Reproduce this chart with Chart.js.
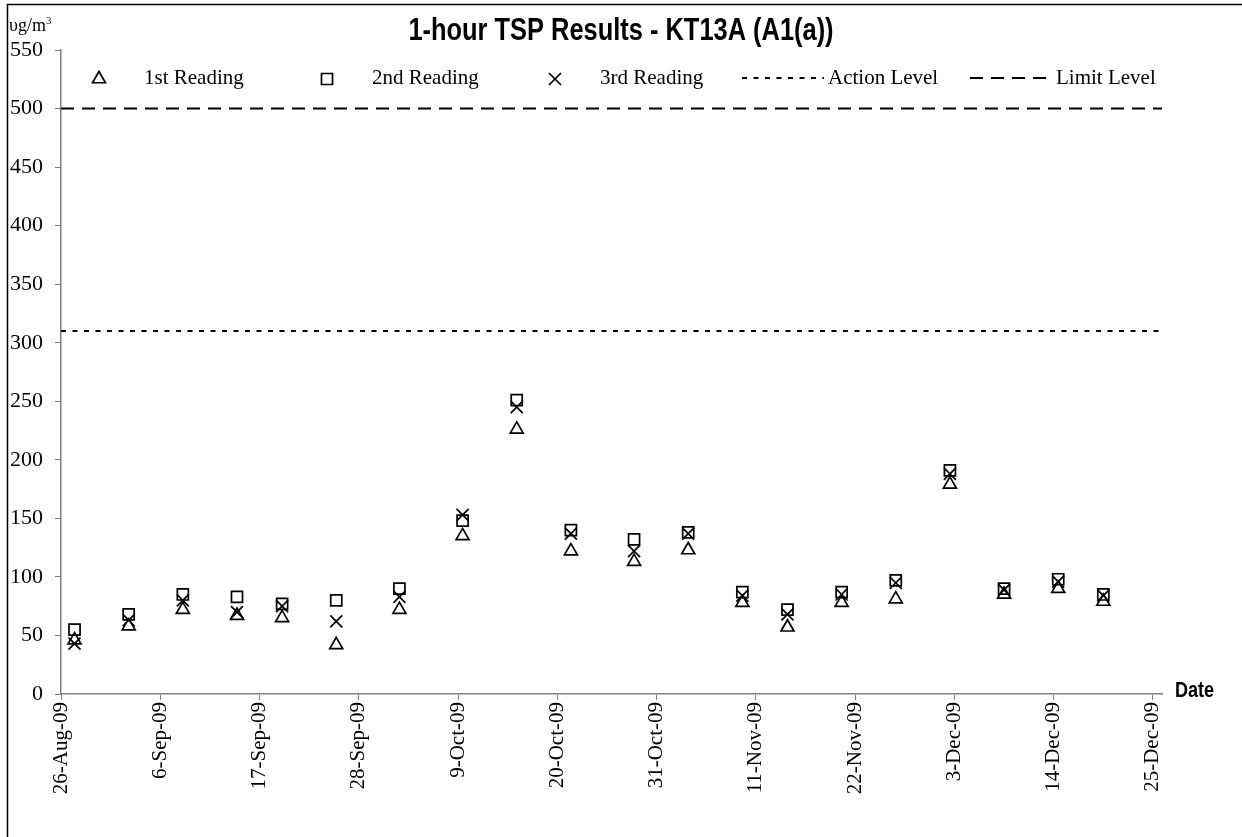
<!DOCTYPE html>
<html>
<head>
<meta charset="utf-8">
<title>1-hour TSP Results - KT13A (A1(a))</title>
<script src="https://cdn.jsdelivr.net/npm/chart.js@4.4.0/dist/chart.umd.min.js"></script>
<style>
    html, body { margin: 0; padding: 0; background: #fff; }
    #wrap { position: relative; width: 1242px; height: 837px; }
</style>
</head>
<body>
<div id="wrap"><canvas id="kt13a-chart" width="1242" height="837"></canvas></div>
<script>
(function() {
    'use strict';

    // Datos
    var startDate = '2009-08-26';
    var sampleHour = 12;

    var sampleDates = [
        '2009-08-27', '2009-09-02', '2009-09-08', '2009-09-14', '2009-09-19',
        '2009-09-25', '2009-10-02', '2009-10-09', '2009-10-15', '2009-10-21',
        '2009-10-28', '2009-11-03', '2009-11-09', '2009-11-14', '2009-11-20',
        '2009-11-26', '2009-12-02', '2009-12-08', '2009-12-14', '2009-12-19'
    ];
    var firstReading  = [46, 58, 72, 67, 65, 42, 72, 135, 226, 122, 113, 123, 78, 57, 78, 81, 179, 85, 90, 79];
    var secondReading = [55, 68, 85, 83, 77, 80, 90, 148, 251, 140, 132, 138, 87, 72, 87, 97, 191, 90, 98, 85];
    var thirdReading  = [43, 63, 80, 70, 75, 62, 83, 153, 245, 137, 122, 137, 84, 68, 85, 95, 188, 89, 96, 84];

    var actionLevel = 310;
    var limitLevel = 500;

    var xTickLabels = ['26-Aug-09', '6-Sep-09', '17-Sep-09', '28-Sep-09', '9-Oct-09', '20-Oct-09',
        '31-Oct-09', '11-Nov-09', '22-Nov-09', '3-Dec-09', '14-Dec-09', '25-Dec-09'];
    var xTickStep = 11;
    var xAxisEnd = 122;
    var yMax = 550;
    var yStep = 50;

    var SERIF = '"Liberation Serif", "Times New Roman", Times, serif';
    var SANS = '"Liberation Sans", Arial, sans-serif';

    /**
     * Dias desde el inicio del eje
     */
    function dayOffset(dateStr) {
        var t0 = Date.parse(startDate + 'T00:00:00Z');
        var t = Date.parse(dateStr + 'T00:00:00Z');
        return (t - t0) / 86400000 + sampleHour / 24;
    }

    function toPoints(values) {
        return values.map(function(v, i) {
            return { x: dayOffset(sampleDates[i]), y: v };
        });
    }

    function levelLine(value) {
        return [{ x: 0, y: value }, { x: xAxisEnd, y: value }];
    }

    var markerStyle = {
        type: 'scatter',
        borderColor: '#000',
        backgroundColor: 'rgba(0,0,0,0)',
        borderWidth: 1.7,
        pointHoverRadius: 7
    };

    var datasets = [
        Object.assign({}, markerStyle, {
            label: '1st Reading', data: toPoints(firstReading),
            pointStyle: 'triangle', pointRadius: 7.5
        }),
        Object.assign({}, markerStyle, {
            label: '2nd Reading', data: toPoints(secondReading),
            pointStyle: 'rect', pointRadius: 7.8
        }),
        Object.assign({}, markerStyle, {
            label: '3rd Reading', data: toPoints(thirdReading),
            pointStyle: 'crossRot', pointRadius: 8.5
        }),
        {
            type: 'line', label: 'Action Level', data: levelLine(actionLevel),
            borderColor: '#000', borderWidth: 2.2, borderDash: [5, 6.5],
            pointRadius: 0, fill: false
        },
        {
            type: 'line', label: 'Limit Level', data: levelLine(limitLevel),
            borderColor: '#000', borderWidth: 2, borderDash: [13, 8],
            pointRadius: 0, fill: false
        }
    ];

    // Leyenda estilo Excel: columnas iguales, muestra centrada en su caja
    var legendStart = 99;
    var legendPitch = 228;
    var legendKeyHalf = 41;
    var legendY = 78;

    function drawMarker(ctx, style, radius, width, x, y) {
        if (Chart.helpers && Chart.helpers.drawPoint) {
            Chart.helpers.drawPoint(ctx, { pointStyle: style, radius: radius, borderWidth: width, rotation: 0 }, x, y);
            return;
        }
        ctx.beginPath();
        if (style === 'triangle') {
            ctx.moveTo(x, y - radius);
            ctx.lineTo(x + radius * 0.866, y + radius / 2);
            ctx.lineTo(x - radius * 0.866, y + radius / 2);
            ctx.closePath();
        } else if (style === 'rect') {
            var s = radius * Math.SQRT1_2;
            ctx.rect(x - s, y - s, 2 * s, 2 * s);
        } else {
            var c = radius * Math.SQRT1_2;
            ctx.moveTo(x - c, y - c); ctx.lineTo(x + c, y + c);
            ctx.moveTo(x + c, y - c); ctx.lineTo(x - c, y + c);
        }
        ctx.stroke();
    }

    // Texto estrecho (tipo Arial Narrow)
    function narrowText(ctx, text, x, y, font, align) {
        ctx.save();
        ctx.font = font + ' ' + SANS;
        ctx.textBaseline = 'middle';
        ctx.textAlign = align;
        ctx.translate(x, y);
        ctx.scale(0.82, 1);
        ctx.fillText(text, 0, 0);
        ctx.restore();
    }

    var decorPlugin = {
        id: 'kt13aDecor',
        beforeDraw: function(chart) {
            var ctx = chart.ctx;
            ctx.save();
            ctx.fillStyle = '#fff';
            ctx.fillRect(0, 0, chart.width, chart.height);
            // marco exterior
            ctx.strokeStyle = '#000';
            ctx.lineWidth = 1.5;
            ctx.strokeRect(7.5, 4.5, chart.width + 20, chart.height + 20);
            ctx.restore();
        },
        afterDraw: function(chart) {
            var ctx = chart.ctx;
            var area = chart.chartArea;
            ctx.save();
            ctx.fillStyle = '#000';

            // Titulo
            narrowText(ctx, '1-hour TSP Results - KT13A (A1(a))', chart.width / 2, 31, 'bold 31px', 'center');

            // Unidad del eje Y
            ctx.font = '18px ' + SERIF;
            ctx.textAlign = 'left';
            ctx.textBaseline = 'alphabetic';
            ctx.fillText('\u03c5g/m', 9, 31);
            var w = ctx.measureText('\u03c5g/m').width;
            ctx.font = '11px ' + SERIF;
            ctx.fillText('3', 9 + w, 24);

            // Titulo eje X
            narrowText(ctx, 'Date', area.right + 13, area.bottom - 3, 'bold 22px', 'left');

            // Leyenda
            ctx.font = '21px ' + SERIF;
            chart.data.datasets.forEach(function(ds, i) {
                var cx = legendStart + i * legendPitch;
                ctx.save();
                ctx.strokeStyle = ds.borderColor;
                ctx.fillStyle = 'rgba(0,0,0,0)';
                ctx.lineWidth = ds.borderWidth;
                if (ds.type === 'line') {
                    ctx.setLineDash(ds.borderDash);
                    ctx.beginPath();
                    ctx.moveTo(cx - legendKeyHalf, legendY);
                    ctx.lineTo(cx + legendKeyHalf, legendY);
                    ctx.stroke();
                } else {
                    drawMarker(ctx, ds.pointStyle, ds.pointRadius, ds.borderWidth, cx, legendY + 1);
                }
                ctx.restore();
                ctx.textAlign = 'left';
                ctx.textBaseline = 'middle';
                ctx.fillText(ds.label, cx + legendKeyHalf + 4, legendY);
            });
            ctx.restore();
        }
    };

    var ctx = document.getElementById('kt13a-chart');

    new Chart(ctx, {
        type: 'scatter',
        data: { datasets: datasets },
        options: {
            responsive: false,
            animation: false,
            layout: {
                padding: { left: 0, right: 80, top: 50, bottom: 0 }
            },
            plugins: {
                legend: { display: false },
                title: { display: false },
                tooltip: { enabled: true }
            },
            scales: {
                x: {
                    type: 'linear',
                    min: 0,
                    max: xAxisEnd,
                    afterFit: function(scale) { scale.height = 143; },
                    afterBuildTicks: function(scale) {
                        scale.ticks = xTickLabels.map(function(lbl, i) {
                            return { value: i * xTickStep };
                        });
                    },
                    grid: {
                        display: true,
                        drawOnChartArea: false,
                        drawTicks: true,
                        tickLength: 6,
                        color: '#808080'
                    },
                    border: { display: true, color: '#808080', width: 1.5 },
                    ticks: {
                        autoSkip: false,
                        maxRotation: 90,
                        minRotation: 90,
                        padding: 2,
                        color: '#000',
                        font: { family: SERIF, size: 21 },
                        callback: function(value) {
                            return xTickLabels[Math.round(value / xTickStep)];
                        }
                    }
                },
                y: {
                    min: 0,
                    max: yMax,
                    afterFit: function(scale) { scale.width = 61; },
                    grid: {
                        display: true,
                        drawOnChartArea: false,
                        drawTicks: true,
                        tickLength: 6,
                        color: '#808080'
                    },
                    border: { display: true, color: '#808080', width: 1.5 },
                    ticks: {
                        stepSize: yStep,
                        padding: 12,
                        color: '#000',
                        font: { family: SERIF, size: 22 }
                    }
                }
            }
        },
        plugins: [decorPlugin]
    });

})();
</script>
</body>
</html>
